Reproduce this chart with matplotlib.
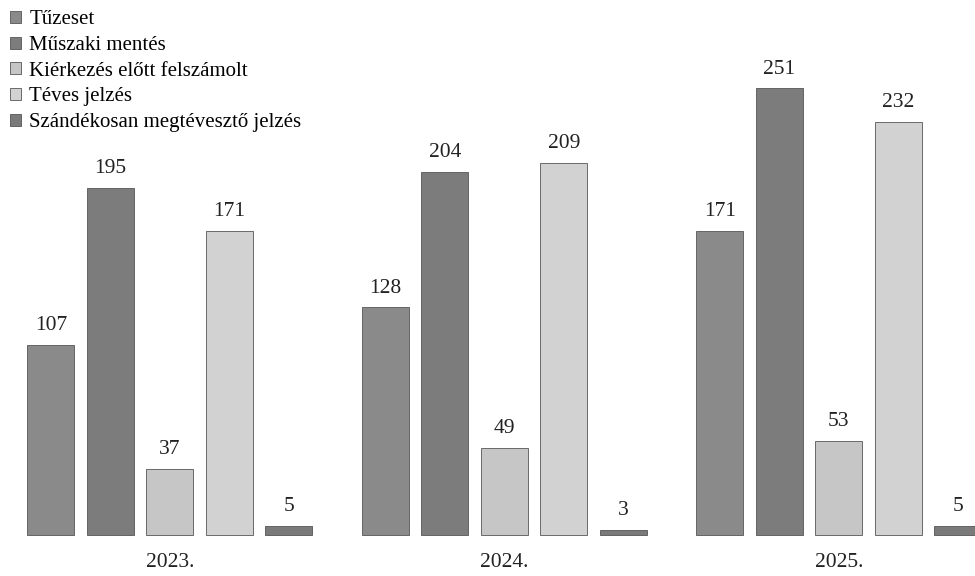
import numpy as np
import matplotlib.pyplot as plt

years = ['2023.', '2024.', '2025.']
categories = ['Tűzeset', 'Műszaki mentés', 'Kiérkezés előtt felszámolt',
              'Téves jelzés', 'Szándékosan megtévesztő jelzés']
tuzeset = [107, 128, 171]
muszaki = [195, 204, 251]
kierkezes = [37, 49, 53]
teves = [171, 209, 232]
szandekos = [5, 3, 5]
series = [tuzeset, muszaki, kierkezes, teves, szandekos]
colors = ['#8a8a8a', '#7c7c7c', '#c6c6c6', '#d2d2d2', '#7a7a7a']

plt.rcParams['font.family'] = ['Liberation Serif', 'DejaVu Serif']

fig = plt.figure(figsize=(9.75, 5.76), dpi=100)
ax = fig.add_axes([0, 0, 1, 1])

group_step = 5.62
width = 0.79
centers = np.arange(len(years)) * group_step

for i, (vals, col) in enumerate(zip(series, colors)):
    x = centers + (i - 2)
    ax.bar(x, vals, width=width, color=col, edgecolor='#555555',
           linewidth=0.6, label=categories[i])
    for xi, v in zip(x, vals):
        ax.annotate(str(v), (xi, v), xytext=(0, 7), textcoords='offset points',
                    ha='center', va='bottom', fontsize=15.5, color='#222222')

for c, y in zip(centers, years):
    ax.text(c, -15.5, y, ha='center', va='center', fontsize=15.5, color='#222222')

ax.set_xlim(-2.857, 13.53)
ax.set_ylim(-23.0, 300.6)
ax.axis('off')

ax.legend(loc='upper left', bbox_to_anchor=(0.0, 1.0), frameon=False,
          fontsize=15, handlelength=0.5, handleheight=0.5, handletextpad=0.4,
          labelspacing=0.32, borderaxespad=0.35, borderpad=0.15)

plt.savefig('out.png', dpi=100)
